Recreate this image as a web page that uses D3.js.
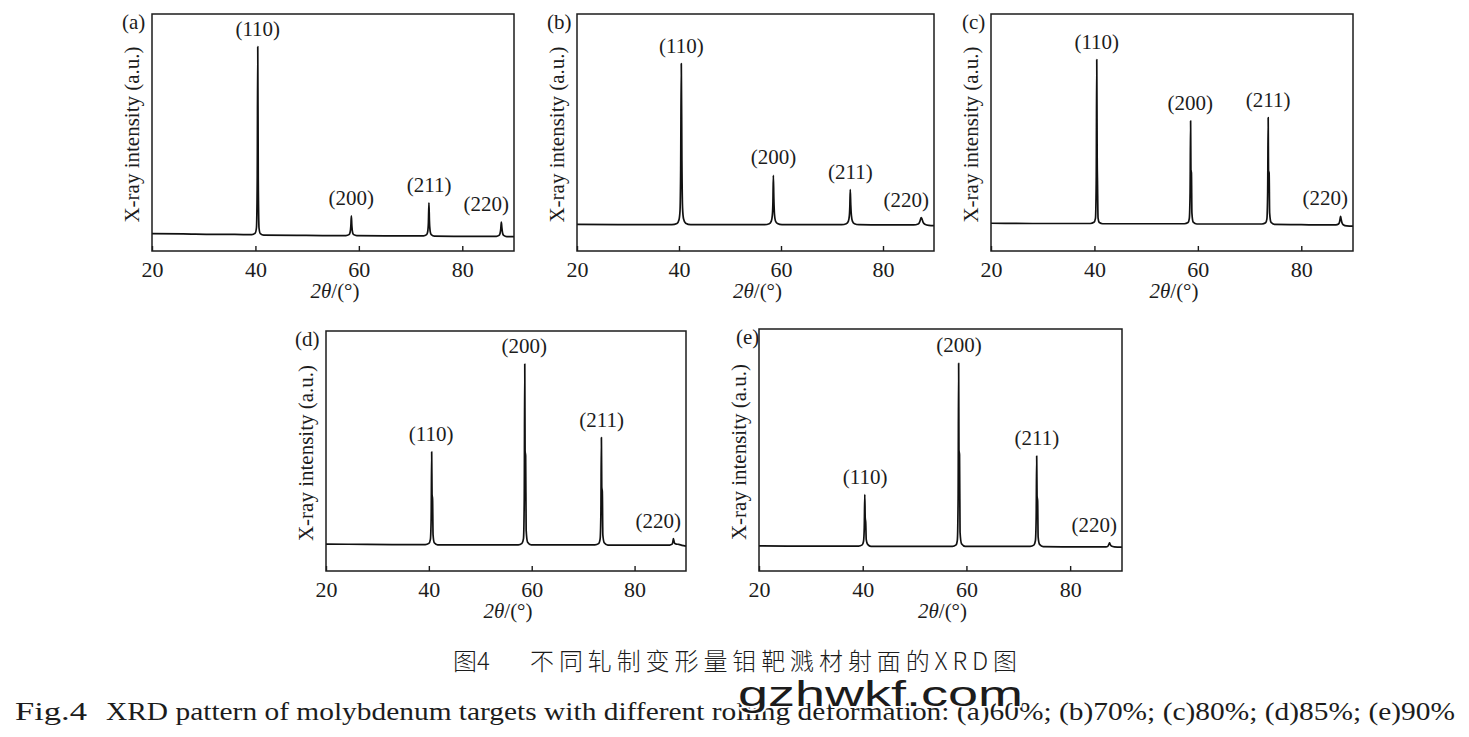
<!DOCTYPE html>
<html>
<head>
<meta charset="utf-8">
<title>XRD pattern of molybdenum targets</title>
<script src="https://d3js.org/d3.v7.min.js"></script>
<style>
  body { margin: 0; background: #fff; }
  text { font-family: "Liberation Serif", "Times New Roman", serif; fill: #1c1c1c; }
</style>
</head>
<body>
<div id="chart"></div>
<script>

// ---- data ----
var panelNames = ["(a)", "(b)", "(c)", "(d)", "(e)"];
var tickValues = [20, 40, 60, 80];
var peakLabels = ["(110)", "(200)", "(211)", "(220)"];
var peakPos = [40.45, 58.55, 73.6, 87.55];

// [2theta, intensity (a.u.)]
var traceA = [
  [20, 7.3], [26, 7.2], [32, 7.0], [36, 7.0],
  [39.3, 6.9], [39.95, 7.5], [40.2, 9.8], [40.35, 30], [40.45, 86.2], [40.55, 30], [40.7, 9.6], [40.95, 7.3], [41.6, 6.7],
  [48, 6.6], [53, 6.5],
  [57.5, 6.5], [58.1, 6.9], [58.3, 7.8], [58.45, 10.5], [58.55, 14.8], [58.65, 10.5], [58.8, 7.7], [59.0, 6.9], [59.6, 6.5],
  [65, 6.4], [69, 6.4],
  [72.5, 6.4], [73.1, 6.9], [73.3, 8], [73.45, 12], [73.55, 20.3], [73.65, 12.5], [73.8, 8.2], [74.0, 6.9], [74.6, 6.3],
  [80, 6.2], [84, 6.2],
  [86.6, 6.2], [87.1, 6.6], [87.3, 7.4], [87.45, 9.5], [87.55, 12.2], [87.65, 10], [87.8, 7.5], [88.0, 6.6], [88.6, 6.1],
  [90, 6.1]
];

var traceB = [
  [20, 11.2], [28, 11.1], [34, 11.1],
  [38.6, 11.1], [39.6, 11.6], [40.0, 13.2], [40.2, 17], [40.33, 35], [40.45, 79.1], [40.57, 38], [40.7, 18], [40.9, 13.5], [41.3, 11.7], [42.3, 11.1],
  [48, 11.1], [53, 11.1],
  [56.8, 11.1], [57.7, 11.5], [58.1, 12.6], [58.3, 15], [58.42, 21], [58.5, 31.9], [58.6, 22], [58.72, 15.5], [58.9, 12.8], [59.3, 11.6], [60.2, 11.1],
  [65, 11.1], [69, 11.1],
  [71.9, 11.1], [72.8, 11.5], [73.2, 12.5], [73.4, 14.8], [73.5, 19], [73.58, 25.9], [73.68, 19.5], [73.8, 15], [74.0, 12.6], [74.4, 11.5], [75.3, 11.1],
  [80, 11.0], [84, 11.0],
  [86.0, 11.0], [86.9, 11.4], [87.2, 12.3], [87.4, 13.6], [87.5, 14.1], [87.65, 13.5], [87.85, 12.2], [88.2, 11.3], [89, 10.8],
  [90, 10.7]
];

var traceC = [
  [20, 11.7], [28, 11.6], [34, 11.6],
  [39.2, 11.6], [39.9, 12.1], [40.2, 13.8], [40.35, 30], [40.45, 80.8], [40.53, 40], [40.6, 28], [40.7, 14], [40.95, 12], [41.6, 11.5],
  [48, 11.5], [53, 11.5],
  [57.4, 11.5], [58.1, 12], [58.35, 13.8], [58.5, 25], [58.6, 54.9], [58.66, 34], [58.76, 33], [58.85, 16], [59.1, 12.2], [59.8, 11.4],
  [65, 11.4], [69, 11.4],
  [72.4, 11.4], [73.1, 11.9], [73.35, 13.6], [73.5, 25], [73.6, 56.3], [73.66, 34], [73.78, 33], [73.88, 16], [74.15, 12.1], [74.8, 11.2],
  [80, 11.1], [84, 11.0],
  [86.7, 11.0], [87.2, 11.4], [87.4, 12.3], [87.52, 13.8], [87.6, 14.6], [87.7, 13.5], [87.85, 12], [88.1, 11.1], [88.8, 10.6],
  [90, 10.5]
];

var traceD = [
  [20, 11.2], [28, 11.1], [34, 11.0],
  [39.3, 11.0], [40.0, 11.5], [40.3, 13.2], [40.45, 22], [40.55, 49.6], [40.62, 32], [40.72, 30], [40.82, 15], [41.05, 11.8], [41.7, 10.9],
  [48, 10.9], [53, 10.9],
  [57.4, 10.9], [58.1, 11.5], [58.4, 13.5], [58.55, 30], [58.65, 86.2], [58.71, 50], [58.82, 48], [58.92, 17], [59.2, 12], [59.9, 10.9],
  [65, 10.9], [69, 10.9],
  [72.3, 10.9], [73.0, 11.4], [73.3, 13.3], [73.45, 24], [73.55, 55.6], [73.62, 35], [73.73, 33], [73.83, 15], [74.1, 11.8], [74.8, 10.8],
  [80, 10.8], [84, 10.8],
  [86.8, 10.8], [87.3, 11.2], [87.45, 12.2], [87.55, 13.5], [87.65, 12.6], [87.8, 11.5], [88.1, 11.2], [88.6, 11.1], [89.2, 10.7],
  [90, 10.4]
];

var traceE = [
  [20, 10.4], [28, 10.3], [34, 10.3],
  [39.2, 10.3], [39.9, 10.8], [40.15, 12.2], [40.3, 18], [40.4, 31.6], [40.48, 22], [40.58, 20], [40.68, 13], [40.95, 11], [41.6, 10.2],
  [48, 10.2], [53, 10.2],
  [57.3, 10.2], [58.0, 10.8], [58.25, 12.8], [58.4, 30], [58.5, 85.8], [58.56, 50], [58.67, 48], [58.77, 16], [59.05, 11.3], [59.8, 10.2],
  [65, 10.2], [69, 10.2],
  [72.3, 10.2], [73.0, 10.7], [73.3, 12.5], [73.45, 22], [73.55, 47.5], [73.62, 31], [73.73, 29], [73.83, 14], [74.1, 11], [74.8, 10.1],
  [80, 10.0], [84, 10.0],
  [86.9, 10.0], [87.3, 10.3], [87.5, 11.2], [87.6, 11.6], [87.72, 11.0], [87.95, 10.3], [88.5, 10.0],
  [90, 9.9]
];

var traces = [traceA, traceB, traceC, traceD, traceE];

var captionCn1 = "图4";
var captionCn2 = "不同轧制变形量钼靶溅材射面的XRD图";
var captionEn1 = "Fig.4";
var captionEn2 = "XRD pattern of molybdenum targets with different rolling deformation: (a)60%; (b)70%; (c)80%; (d)85%; (e)90%";
var watermark = "gzhwkf.com";

// ---- layout ----
var frames = [
  {x: 152, y: 14,  w: 362, h: 237, lx: -30},
  {x: 577, y: 14,  w: 357, h: 237, lx: -30},
  {x: 991, y: 14,  w: 362, h: 237, lx: -29},
  {x: 326, y: 331, w: 360, h: 240, lx: -31},
  {x: 759, y: 329, w: 363, h: 242, lx: -23}
];

var svg = d3.select("#chart")
  .append("svg")
    .attr("width", 1469)
    .attr("height", 737);

frames.forEach(function(f, i) {
  var g = svg.append("g")
    .attr("transform", "translate(" + f.x + "," + f.y + ")");

  var x = d3.scaleLinear().domain([20, 90]).range([0, f.w]);
  var y = d3.scaleLinear().domain([0, 100]).range([f.h, 0]);

  // bottom axis: inward ticks, labels below
  var ax = g.append("g")
    .attr("transform", "translate(0," + f.h + ")")
    .call(d3.axisBottom(x).tickValues(tickValues).tickSizeInner(-5).tickSizeOuter(0).tickPadding(0));
  ax.select(".domain").remove();
  ax.selectAll(".tick line").attr("stroke", "#1c1c1c").attr("stroke-width", 1.4);
  ax.selectAll(".tick text")
    .attr("y", 26)
    .attr("dy", null)
    .style("font-size", "22px")
    .style("font-family", "'Liberation Serif', 'Times New Roman', serif")
    .attr("fill", "#1c1c1c");

  // the pattern
  g.append("path")
    .datum(traces[i])
    .attr("fill", "none")
    .attr("stroke", "#111")
    .attr("stroke-width", 1.7)
    .attr("stroke-linejoin", "round")
    .attr("d", d3.line()
      .x(function(d) { return x(d[0]); })
      .y(function(d) { return y(d[1]); })
      .curve(d3.curveMonotoneX));

  // frame
  g.append("rect")
    .attr("width", f.w)
    .attr("height", f.h)
    .attr("fill", "none")
    .attr("stroke", "#1c1c1c")
    .attr("stroke-width", 1.5);

  // peak labels
  peakPos.forEach(function(p, k) {
    var top = d3.max(traces[i].filter(function(d) { return Math.abs(d[0] - p) < 0.6; }), function(d) { return d[1]; });
    var t = g.append("text")
      .attr("text-anchor", "middle")
      .attr("x", x(p))
      .attr("y", y(top) - 11)
      .style("font-size", "21px")
      .text(peakLabels[k]);
    var half = t.node().getComputedTextLength() / 2;
    if (x(p) + half > f.w - 5) t.attr("x", f.w - 5 - half);
  });

  // panel letter
  g.append("text")
    .attr("x", f.lx)
    .attr("y", 15)
    .style("font-size", "21px")
    .text(panelNames[i]);

  // axis titles
  var xt = g.append("text")
    .attr("text-anchor", "middle")
    .attr("x", f.w / 2 + 2)
    .attr("y", f.h + 47)
    .style("font-size", "21px");
  xt.append("tspan").style("font-style", "italic").text("2θ");
  xt.append("tspan").text("/(°)");

  g.append("text")
    .attr("text-anchor", "middle")
    .attr("transform", "translate(-13," + (f.h / 2 + 2) + ") rotate(-90)")
    .style("font-size", "21px")
    .text("X-ray intensity (a.u.)");
});

// ---- captions ----
svg.append("text")
  .attr("x", 453).attr("y", 670)
  .style("font-family", "'Noto Sans CJK SC', sans-serif")
  .style("font-weight", 300)
  .style("font-size", "24px")
  .text(captionCn1);

svg.append("text")
  .attr("x", 530).attr("y", 670)
  .attr("textLength", 487)
  .attr("lengthAdjust", "spacing")
  .style("font-family", "'Noto Sans CJK SC', sans-serif")
  .style("font-weight", 300)
  .style("font-size", "24px")
  .text(captionCn2);

svg.append("text")
  .attr("x", 15).attr("y", 720)
  .attr("textLength", 72)
  .attr("lengthAdjust", "spacingAndGlyphs")
  .style("font-size", "26px")
  .text(captionEn1);

svg.append("text")
  .attr("x", 106).attr("y", 720)
  .attr("textLength", 1349)
  .attr("lengthAdjust", "spacingAndGlyphs")
  .style("font-size", "26px")
  .text(captionEn2);

// site watermark sitting over the English caption, as in the source image
svg.append("text")
  .attr("x", 738).attr("y", 706)
  .attr("textLength", 285)
  .attr("lengthAdjust", "spacingAndGlyphs")
  .style("font-family", "'Liberation Sans', Arial, sans-serif")
  .style("font-size", "35px")
  .attr("fill", "#000")
  .attr("stroke", "#fff")
  .attr("stroke-width", 3)
  .attr("paint-order", "stroke")
  .text(watermark);

</script>
</body>
</html>
